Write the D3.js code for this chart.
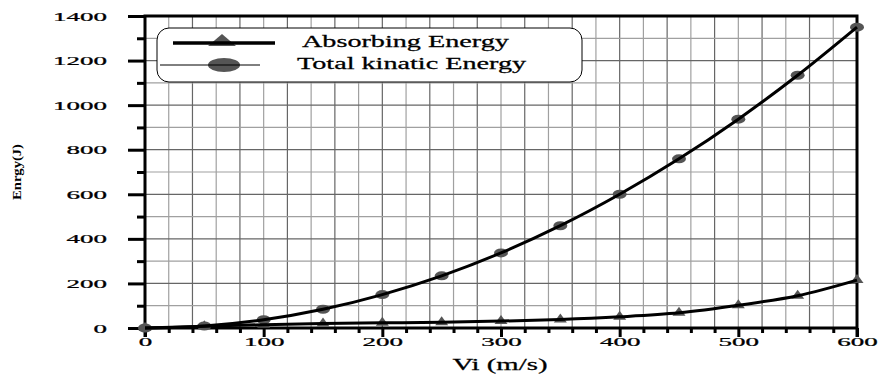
<!DOCTYPE html>
<html>
<head>
<meta charset="utf-8">
<script src="https://cdn.jsdelivr.net/npm/d3@7"></script>
<style>
  html, body { margin: 0; padding: 0; background: #fff; }
  svg text { font-family: "Liberation Serif", "Times New Roman", "DejaVu Serif", serif !important; }
</style>
</head>
<body>
<svg id="chart" width="880" height="375"></svg>
<script>
// Impact velocity (m/s)
const velocity = [0, 50, 100, 150, 200, 250, 300, 350, 400, 450, 500, 550, 600];
// Energy absorbed by the target (J)
const absorbingEnergy = [0, 8, 15, 20, 23, 26, 31, 38, 50, 68, 102, 145, 215];
// Total kinetic energy of the projectile (J)
const totalKineticEnergy = [0, 9, 37, 84, 150, 234, 337, 459, 600, 759, 937, 1134, 1350];

const seriesNames = ["Absorbing Energy", "Total kinatic Energy"];
const xTicks = d3.range(0, 601, 20);
const yTicks = d3.range(0, 1401, 100);
const xTitle = "Vi (m/s)";
const yTitle = "Enrgy(J)";

const W = 880, H = 375;
const margin = { top: 16, right: 23, bottom: 47, left: 145 };
const iw = W - margin.left - margin.right;
const ih = H - margin.top - margin.bottom;

const svg = d3.select("#chart");
const g = svg.append("g").attr("transform", `translate(${margin.left},${margin.top})`);

const x = d3.scaleLinear().domain([0, 600]).range([0, iw]);
const y = d3.scaleLinear().domain([0, 1400]).range([ih, 0]);

// horizontal stretch that brings a sample string to a given width
function stretchFor(sample, size, weight, width) {
  const t = svg.append("text").text(sample).style("font-size", size + "px")
    .attr("font-weight", weight || "normal");
  const w = t.node().getComputedTextLength();
  t.remove();
  return width / w;
}
const sxTick = stretchFor("1400", 12.5, "normal", 54);
const sxLegend = stretchFor(seriesNames[0], 16, "normal", 207);
const sxXTitle = stretchFor(xTitle, 16, "normal", 95);
const sxYTitle = stretchFor(yTitle, 10, "bold", 56);

// grid
g.append("g").selectAll("line").data(xTicks).join("line")
  .attr("x1", d => x(d)).attr("x2", d => x(d))
  .attr("y1", 0).attr("y2", ih)
  .attr("stroke", d => (d % 40 === 0) ? "#666" : "#a0a0a0")
  .attr("stroke-width", 1.2);
g.append("g").selectAll("line").data(yTicks).join("line")
  .attr("x1", 0).attr("x2", iw)
  .attr("y1", d => y(d)).attr("y2", d => y(d))
  .attr("stroke", d => (d % 200 === 0) ? "#666" : "#a0a0a0")
  .attr("stroke-width", 1.2);

// x axis
const xAxis = g.append("g").attr("transform", `translate(0,${ih})`)
  .call(d3.axisBottom(x).tickValues(xTicks)
    .tickFormat(d => d % 100 === 0 ? d : "").tickSizeOuter(0));
xAxis.select(".domain").remove();
xAxis.selectAll(".tick line")
  .attr("y2", d => d % 100 === 0 ? 9 : 5)
  .attr("stroke", "#000").attr("stroke-width", 3);
xAxis.selectAll(".tick text")
  .attr("y", 0).attr("dy", 0)
  .style("font-size", "12.5px").attr("fill", "#000")
  .attr("stroke", "#000").attr("stroke-width", 0.25)
  .attr("transform", `translate(0,18) scale(${sxTick},1)`);

// y axis
const yAxis = g.append("g")
  .call(d3.axisLeft(y).tickValues(yTicks)
    .tickFormat(d => d % 200 === 0 ? d : "").tickSizeOuter(0));
yAxis.select(".domain").remove();
yAxis.selectAll(".tick line")
  .attr("x2", d => d % 200 === 0 ? -17 : -8)
  .attr("stroke", "#000").attr("stroke-width", 3);
yAxis.selectAll(".tick text")
  .attr("x", 0).attr("dy", "0.33em")
  .style("font-size", "12.5px").attr("fill", "#000")
  .attr("stroke", "#000").attr("stroke-width", 0.25)
  .attr("transform", `translate(-38,0) scale(${sxTick},1)`);

// frame
g.append("rect").attr("x", 0).attr("y", 0).attr("width", iw).attr("height", ih)
  .attr("fill", "none").attr("stroke", "#000").attr("stroke-width", 3);
g.append("line").attr("x1", 0).attr("x2", 0).attr("y1", ih).attr("y2", ih + 9)
  .attr("stroke", "#000").attr("stroke-width", 3);
g.append("line").attr("x1", iw).attr("x2", iw).attr("y1", ih).attr("y2", ih + 9)
  .attr("stroke", "#000").attr("stroke-width", 3);

// markers
const markerFill = "#555";
const triPath = (cx, cy, w, h) => `M${cx - w / 2},${cy + h / 3}L${cx},${cy - 2 * h / 3}L${cx + w / 2},${cy + h / 3}Z`;

const ptsA = velocity.map((v, i) => [v, absorbingEnergy[i]]);
const ptsT = velocity.map((v, i) => [v, totalKineticEnergy[i]]);

g.append("g").selectAll("path").data(ptsA).join("path")
  .attr("d", d => triPath(x(d[0]), y(d[1]), 13, 9))
  .attr("fill", markerFill);
g.append("g").selectAll("ellipse").data(ptsT).join("ellipse")
  .attr("cx", d => x(d[0])).attr("cy", d => y(d[1]))
  .attr("rx", 7).attr("ry", 4.5)
  .attr("fill", markerFill);

// curves
const line = d3.line().x(d => x(d[0])).y(d => y(d[1])).curve(d3.curveCatmullRom.alpha(0.5));
g.append("path").datum(ptsA).attr("d", line)
  .attr("fill", "none").attr("stroke", "#000").attr("stroke-width", 3);
g.append("path").datum(ptsT).attr("d", line)
  .attr("fill", "none").attr("stroke", "#000").attr("stroke-width", 3);

// legend
const lg = svg.append("g");
lg.append("rect").attr("x", 157).attr("y", 28).attr("width", 425).attr("height", 54)
  .attr("rx", 12).attr("ry", 12)
  .attr("fill", "#fff").attr("stroke", "#000").attr("stroke-width", 1);
lg.append("path").attr("d", triPath(222, 42, 28, 12)).attr("fill", markerFill);
lg.append("line").attr("x1", 173).attr("x2", 275).attr("y1", 43).attr("y2", 43)
  .attr("stroke", "#000").attr("stroke-width", 3.5);
lg.append("ellipse").attr("cx", 224).attr("cy", 65).attr("rx", 16).attr("ry", 7)
  .attr("fill", markerFill);
lg.append("line").attr("x1", 160).attr("x2", 260).attr("y1", 65).attr("y2", 65)
  .attr("stroke", "#000").attr("stroke-width", 1);
lg.append("text").text(seriesNames[0])
  .style("font-size", "16px").attr("fill", "#000")
  .attr("stroke", "#000").attr("stroke-width", 0.25)
  .attr("transform", `translate(302,47) scale(${sxLegend},1)`);
lg.append("text").text(seriesNames[1])
  .style("font-size", "16px").attr("fill", "#000")
  .attr("stroke", "#000").attr("stroke-width", 0.25)
  .attr("transform", `translate(297,69) scale(${sxLegend},1)`);

// axis titles
svg.append("text").text(xTitle)
  .attr("text-anchor", "middle").style("font-size", "16px").attr("fill", "#000")
  .attr("stroke", "#000").attr("stroke-width", 0.25)
  .attr("transform", `translate(500,370) scale(${sxXTitle},1)`);
svg.append("text").text(yTitle)
  .attr("text-anchor", "middle").style("font-size", "10px").attr("font-weight", "bold")
  .attr("fill", "#000")
  .attr("transform", `translate(21,172) rotate(-90) scale(${sxYTitle},1.3)`);
</script>
</body>
</html>
